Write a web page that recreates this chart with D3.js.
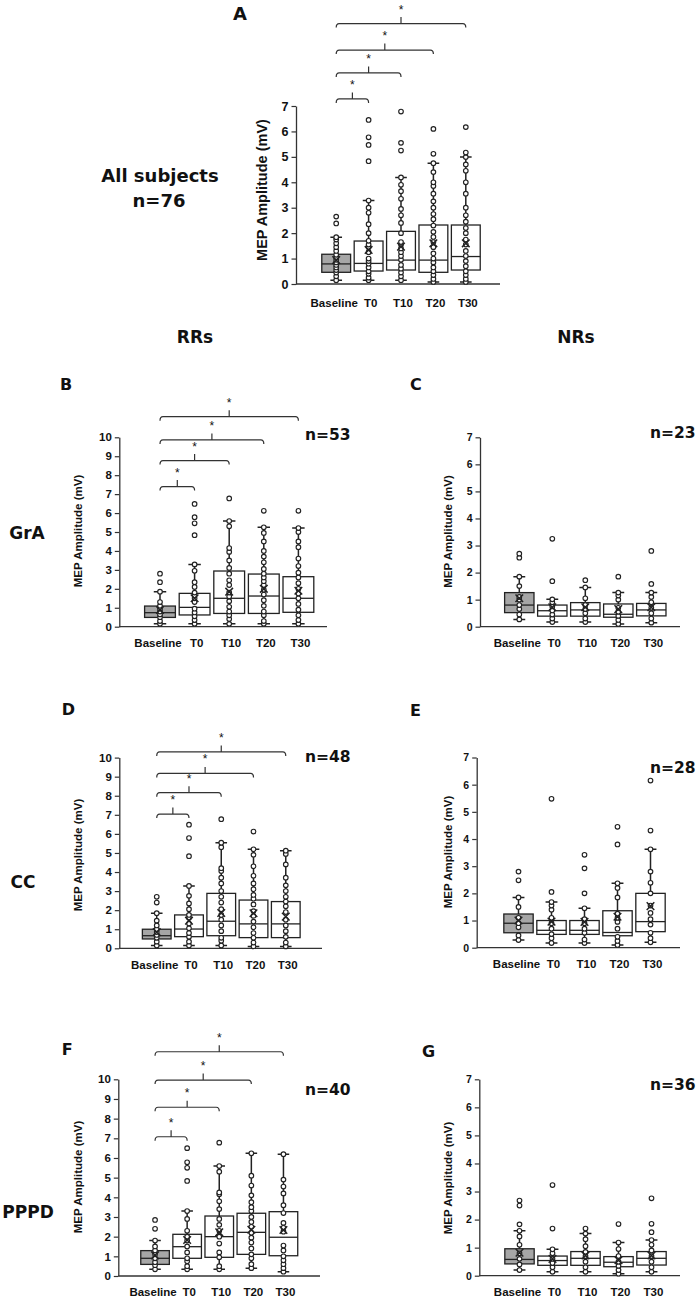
<!DOCTYPE html>
<html>
<head>
<meta charset="utf-8">
<script src="https://cdn.jsdelivr.net/npm/d3@7"></script>
<style>
  body { margin: 0; background: #fff; }
  svg { display: block; }
  .big { font-family: "DejaVu Sans", sans-serif; font-weight: bold; fill: #111; }
  .ax text { font-family: "Liberation Sans", Arial, sans-serif; font-weight: bold; fill: #111; }
  .lab { font-family: "Liberation Sans", Arial, sans-serif; font-weight: bold; fill: #111; }
</style>
</head>
<body>
<svg id="fig" width="699" height="1299"></svg>
<script>
const groups = ["Baseline", "T0", "T10", "T20", "T30"];
const ticks7 = [0, 1, 2, 3, 4, 5, 6, 7];
const ticks10 = [0, 1, 2, 3, 4, 5, 6, 7, 8, 9, 10];
const sigPairs = [["Baseline", "T0"], ["Baseline", "T10"], ["Baseline", "T20"], ["Baseline", "T30"]];

// A - all subjects, n=76
const aQ1 = [0.46, 0.51, 0.55, 0.46, 0.55];
const aMed = [0.79, 0.81, 0.94, 0.94, 1.08];
const aQ3 = [1.17, 1.69, 2.07, 2.32, 2.32];
const aLo = [0.15, 0.15, 0.15, 0.08, 0.08];
const aHi = [1.84, 3.28, 4.19, 4.75, 4.99];
const aMean = [0.94, 1.34, 1.47, 1.6, 1.6];
const aOut = [[2.38, 2.65], [4.83, 5.47, 5.77, 6.45], [5.25, 5.55, 6.78], [5.12, 6.1], [5.17, 6.17]];
const aPts = [
  [0.15, 0.3, 0.45, 0.55, 0.65, 0.75, 0.85, 0.95, 1.05, 1.15, 1.3, 1.45, 1.6, 1.75, 1.84],
  [0.15, 0.25, 0.4, 0.5, 0.65, 0.8, 0.9, 1.0, 1.25, 1.45, 1.55, 1.7, 2.0, 2.35, 2.8, 3.0, 3.28],
  [0.15, 0.3, 0.45, 0.6, 0.75, 0.95, 1.1, 1.25, 1.4, 1.55, 1.65, 2.0, 2.4, 2.7, 2.95, 3.35, 3.65, 3.9, 4.19],
  [0.08, 0.2, 0.35, 0.5, 0.65, 0.85, 1.0, 1.2, 1.45, 1.65, 1.85, 2.05, 2.3, 2.55, 2.75, 3.0, 3.25, 3.55, 3.85, 4.0, 4.4, 4.75],
  [0.08, 0.2, 0.35, 0.5, 0.7, 0.9, 1.1, 1.3, 1.55, 1.75, 2.0, 2.2, 2.45, 2.7, 3.0, 3.55, 4.0, 4.45, 4.7, 4.99]
];
const aBrackets = [7.28, 8.3, 9.2, 10.24];

// B - RRs GrA, n=53
const bQ1 = [0.49, 0.62, 0.70, 0.70, 0.76];
const bMed = [0.74, 1.02, 1.50, 1.62, 1.50];
const bQ3 = [1.09, 1.76, 2.94, 2.78, 2.64];
const bLo = [0.15, 0.15, 0.15, 0.15, 0.15];
const bHi = [1.85, 3.29, 5.58, 5.25, 5.21];
const bMean = [0.88, 1.5, 1.85, 2.0, 1.9];
const bOut = [[2.35, 2.8], [4.83, 5.46, 5.78, 6.48], [6.77], [6.12], [6.12]];
const bPts = [
  [0.15, 0.3, 0.5, 0.65, 0.8, 0.95, 1.1, 1.3, 1.85],
  [0.15, 0.35, 0.55, 0.75, 0.95, 1.3, 1.5, 1.65, 1.8, 2.1, 2.35, 2.95, 3.29],
  [0.15, 0.4, 0.6, 0.8, 1.05, 1.35, 1.6, 1.8, 2.2, 2.45, 2.8, 3.1, 3.5, 3.95, 4.15, 5.3, 5.58],
  [0.15, 0.3, 0.6, 0.8, 1.1, 1.4, 1.7, 1.95, 2.2, 2.4, 2.6, 2.8, 3.05, 3.4, 3.7, 4.0, 4.5, 4.95, 5.25],
  [0.15, 0.35, 0.6, 0.9, 1.2, 1.5, 1.75, 2.0, 2.3, 2.6, 2.85, 3.2, 3.6, 4.2, 4.5, 5.0, 5.21]
];
const bBrackets = [7.4, 8.77, 9.86, 11.09];

// C - NRs GrA, n=23
const cQ1 = [0.52, 0.39, 0.39, 0.35, 0.40];
const cMed = [0.80, 0.59, 0.62, 0.46, 0.62];
const cQ3 = [1.26, 0.80, 0.89, 0.84, 0.86];
const cLo = [0.27, 0.17, 0.17, 0.10, 0.15];
const cHi = [1.85, 1.01, 1.45, 1.26, 1.26];
const cMean = [1.05, 0.72, 0.72, 0.65, 0.72];
const cOut = [[2.55, 2.7], [1.68, 3.25], [1.72], [1.85], [1.58, 2.8]];
const cPts = [
  [0.27, 0.45, 0.65, 0.8, 1.0, 1.1, 1.5, 1.85],
  [0.17, 0.3, 0.45, 0.6, 0.75, 0.9, 1.01],
  [0.17, 0.3, 0.5, 0.65, 0.8, 1.05, 1.45],
  [0.1, 0.25, 0.4, 0.55, 0.7, 1.0, 1.15, 1.26],
  [0.15, 0.3, 0.5, 0.7, 0.9, 1.1, 1.26]
];

// D - RRs CC, n=48
const dQ1 = [0.49, 0.61, 0.66, 0.56, 0.56];
const dMed = [0.66, 1.01, 1.42, 1.28, 1.28];
const dQ3 = [1.00, 1.75, 2.88, 2.53, 2.45];
const dLo = [0.15, 0.15, 0.15, 0.10, 0.10];
const dHi = [1.84, 3.27, 5.54, 5.19, 5.12];
const dMean = [0.85, 1.45, 1.85, 1.84, 1.66];
const dOut = [[2.4, 2.7], [4.83, 5.78, 6.48], [6.77], [6.12], []];
const dPts = [
  [0.15, 0.35, 0.55, 0.7, 0.85, 1.0, 1.2, 1.45, 1.84],
  [0.15, 0.35, 0.6, 0.8, 1.05, 1.3, 1.6, 1.75, 2.05, 2.35, 2.75, 3.27],
  [0.15, 0.4, 0.55, 0.9, 1.2, 1.5, 1.75, 2.05, 2.4, 2.7, 3.0, 3.4, 3.7, 4.05, 4.2, 5.3, 5.54],
  [0.1, 0.3, 0.55, 0.8, 1.1, 1.4, 1.7, 1.95, 2.3, 2.6, 2.8, 3.1, 3.4, 3.8, 4.3, 4.9, 5.19],
  [0.1, 0.3, 0.6, 0.9, 1.2, 1.5, 1.9, 2.2, 2.45, 2.7, 3.0, 3.3, 3.7, 4.4, 4.95, 5.12]
];
const dBrackets = [7.04, 8.16, 9.17, 10.3];

// E - NRs CC, n=28
const eQ1 = [0.55, 0.49, 0.49, 0.44, 0.59];
const eMed = [0.90, 0.64, 0.64, 0.56, 0.96];
const eQ3 = [1.24, 1.00, 1.00, 1.36, 2.00];
const eLo = [0.28, 0.17, 0.17, 0.10, 0.20];
const eHi = [1.85, 1.68, 1.45, 2.37, 3.62];
const eMean = [1.0, 0.96, 0.95, 1.14, 1.53];
const eOut = [[2.48, 2.8], [2.05, 5.48], [2.0, 2.92, 3.42], [3.8, 4.45], [4.31, 6.15]];
const ePts = [
  [0.28, 0.45, 0.75, 0.9, 1.1, 1.5, 1.85],
  [0.17, 0.35, 0.5, 0.7, 0.9, 1.1, 1.4, 1.55, 1.68],
  [0.17, 0.3, 0.55, 0.7, 0.9, 1.05, 1.45],
  [0.1, 0.25, 0.4, 0.7, 0.95, 1.1, 1.25, 1.85, 2.2, 2.37],
  [0.2, 0.35, 0.55, 0.85, 1.05, 1.28, 1.55, 2.0, 2.39, 2.8, 3.62]
];

// F - RRs PPPD, n=40
const fQ1 = [0.59, 0.90, 0.95, 1.10, 1.03];
const fMed = [0.90, 1.49, 2.00, 2.22, 1.97];
const fQ3 = [1.29, 2.12, 3.05, 3.19, 3.27];
const fLo = [0.34, 0.34, 0.34, 0.40, 0.22];
const fHi = [1.80, 3.30, 5.59, 6.24, 6.19];
const fMean = [1.05, 1.83, 2.22, 2.35, 2.34];
const fOut = [[2.4, 2.85], [4.83, 5.5, 5.78, 6.5], [6.78], [], []];
const fPts = [
  [0.34, 0.55, 0.7, 0.9, 1.1, 1.3, 1.5, 1.8],
  [0.34, 0.5, 0.75, 0.9, 1.2, 1.5, 1.8, 2.0, 2.3, 2.9, 3.3],
  [0.34, 0.5, 0.95, 1.2, 1.65, 2.0, 2.3, 2.6, 2.9, 3.4, 3.8, 4.15, 4.25, 5.3, 5.59],
  [0.4, 0.6, 0.9, 1.1, 1.4, 1.7, 1.95, 2.2, 2.5, 2.75, 3.0, 3.3, 3.5, 3.75, 4.1, 4.6, 5.1, 6.24],
  [0.22, 0.4, 0.6, 0.8, 1.0, 1.3, 1.55, 2.25, 2.45, 2.7, 3.2, 3.6, 4.2, 4.55, 4.9, 6.19]
];
const fBrackets = [7.08, 8.58, 9.96, 11.4];

// G - NRs PPPD, n=36
const gQ1 = [0.42, 0.37, 0.37, 0.32, 0.38];
const gMed = [0.58, 0.54, 0.62, 0.48, 0.62];
const gQ3 = [0.96, 0.70, 0.86, 0.68, 0.86];
const gLo = [0.20, 0.14, 0.14, 0.07, 0.14];
const gHi = [1.60, 0.94, 1.50, 1.18, 1.27];
const gMean = [0.82, 0.6, 0.72, 0.55, 0.72];
const gOut = [[1.83, 2.5, 2.68], [1.68, 3.23], [1.68], [1.84], [1.55, 1.85, 2.76]];
const gPts = [
  [0.2, 0.4, 0.6, 0.8, 1.1, 1.4, 1.6],
  [0.14, 0.3, 0.45, 0.6, 0.8, 0.94],
  [0.14, 0.3, 0.5, 0.7, 0.85, 1.05, 1.3, 1.5],
  [0.07, 0.2, 0.35, 0.5, 0.7, 0.95, 1.18],
  [0.14, 0.3, 0.5, 0.7, 0.9, 1.1, 1.27]
];

// layout of each panel (pixels)
const panels = [
  { id: "A", letter: [233, 20, 18], yMax: 7, ticks: ticks7, axisX: 296, y0: 284, yTop: 106, band: [320, 482], axisEnd: 500,
    tickFont: 12.5, ylab: [262, 190, 14.5], xlabY: 307, n: null, brackets: aBrackets,
    q1: aQ1, med: aMed, q3: aQ3, lo: aLo, hi: aHi, mean: aMean, out: aOut, pts: aPts },
  { id: "B", letter: [60, 390, 16], yMax: 10, ticks: ticks10, axisX: 119.3, y0: 626.7, yTop: 437.3, band: [142.7, 315.7], axisEnd: 327,
    tickFont: 11.5, ylab: [78.3, 531, 11.5], xlabY: 647, n: ["n=53", 305, 440], brackets: bBrackets,
    q1: bQ1, med: bMed, q3: bQ3, lo: bLo, hi: bHi, mean: bMean, out: bOut, pts: bPts },
  { id: "C", letter: [410, 390, 16], yMax: 7, ticks: ticks7, axisX: 480, y0: 626.7, yTop: 437.3, band: [502.8, 667.8], axisEnd: 680,
    tickFont: 10.5, ylab: [448.3, 531.5, 11.5], xlabY: 647, n: ["n=23", 650, 438], brackets: null,
    q1: cQ1, med: cMed, q3: cQ3, lo: cLo, hi: cHi, mean: cMean, out: cOut, pts: cPts },
  { id: "D", letter: [61.7, 715, 16], yMax: 10, ticks: ticks10, axisX: 119.3, y0: 948.3, yTop: 757.6, band: [140.6, 301.9], axisEnd: 322,
    tickFont: 11.5, ylab: [78.3, 855, 11.5], xlabY: 968.5, n: ["n=48", 305, 761.5], brackets: dBrackets,
    q1: dQ1, med: dMed, q3: dQ3, lo: dLo, hi: dHi, mean: dMean, out: dOut, pts: dPts },
  { id: "E", letter: [410, 716, 16], yMax: 7, ticks: ticks7, axisX: 476.7, y0: 947.7, yTop: 757.5, band: [502, 667], axisEnd: 680,
    tickFont: 10.5, ylab: [448.3, 852, 11.5], xlabY: 968, n: ["n=28", 650, 773], brackets: null,
    q1: eQ1, med: eMed, q3: eQ3, lo: eLo, hi: eHi, mean: eMean, out: eOut, pts: ePts },
  { id: "F", letter: [61.7, 1055, 16], yMax: 10, ticks: ticks10, axisX: 118.3, y0: 1276, yTop: 1079.3, band: [139, 299.5], axisEnd: 320,
    tickFont: 11.5, ylab: [78.3, 1177, 11.5], xlabY: 1296, n: ["n=40", 305, 1095], brackets: fBrackets,
    q1: fQ1, med: fMed, q3: fQ3, lo: fLo, hi: fHi, mean: fMean, out: fOut, pts: fPts },
  { id: "G", letter: [422, 1057, 16], yMax: 7, ticks: ticks7, axisX: 479.3, y0: 1275.7, yTop: 1079.3, band: [503, 668], axisEnd: 680,
    tickFont: 10.5, ylab: [448.3, 1178, 11.5], xlabY: 1296, n: ["n=36", 650, 1090], brackets: null,
    q1: gQ1, med: gMed, q3: gQ3, lo: gLo, hi: gHi, mean: gMean, out: gOut, pts: gPts }
];

const svg = d3.select("#fig");

function drawPanel(p) {
  const g = svg.append("g").attr("class", "panel-" + p.id);
  const y = d3.scaleLinear().domain([0, p.yMax]).range([p.y0, p.yTop]);
  const x = d3.scaleBand().domain(groups).range(p.band);
  const bw = x.bandwidth() * 0.89;
  const capW = x.bandwidth() * 0.36;
  const cx = d => x(d) + x.bandwidth() / 2;

  // y axis
  const ya = g.append("g")
    .attr("class", "ax")
    .attr("transform", `translate(${p.axisX},0)`)
    .call(d3.axisLeft(y).tickValues(p.ticks).tickFormat(d3.format("d"))
      .tickSize(4.5).tickSizeOuter(0).tickPadding(3));
  ya.select(".domain").attr("stroke", "#333").attr("stroke-width", 1.3);
  ya.selectAll(".tick line").attr("stroke", "#333").attr("stroke-width", 1.2);
  ya.selectAll("text").style("font-size", p.tickFont + "px");

  // x axis line and category labels
  g.append("line")
    .attr("x1", p.axisX).attr("x2", p.axisEnd)
    .attr("y1", p.y0).attr("y2", p.y0)
    .attr("stroke", "#333").attr("stroke-width", 1.3);
  g.selectAll("text.xl")
    .data(groups)
    .enter()
    .append("text")
    .attr("class", "xl lab")
    .attr("x", d => cx(d) + (d === "Baseline" ? -2 : 2))
    .attr("y", p.xlabY)
    .attr("text-anchor", "middle")
    .style("font-size", "11.5px")
    .text(d => d);

  // y axis title
  g.append("text")
    .attr("class", "lab")
    .attr("transform", `translate(${p.ylab[0]},${p.ylab[1]}) rotate(-90)`)
    .attr("text-anchor", "middle")
    .attr("dominant-baseline", "central")
    .style("font-size", p.ylab[2] + "px")
    .text("MEP Amplitude (mV)");

  // boxes
  const rows = groups.map((d, i) => ({
    key: d, q1: p.q1[i], med: p.med[i], q3: p.q3[i], lo: p.lo[i], hi: p.hi[i],
    mean: p.mean[i], pts: p.pts[i].concat(p.out[i])
  }));

  const box = g.selectAll("g.box")
    .data(rows)
    .enter()
    .append("g")
    .attr("class", "box");

  box.append("rect")
    .attr("x", d => cx(d.key) - bw / 2)
    .attr("y", d => y(d.q3))
    .attr("width", bw)
    .attr("height", d => y(d.q1) - y(d.q3))
    .attr("fill", d => d.key === "Baseline" ? "#a6a6a6" : "#fff")
    .attr("stroke", "#222")
    .attr("stroke-width", 1.3);

  box.append("line")
    .attr("x1", d => cx(d.key) - bw / 2).attr("x2", d => cx(d.key) + bw / 2)
    .attr("y1", d => y(d.med)).attr("y2", d => y(d.med))
    .attr("stroke", "#222").attr("stroke-width", 1.3);

  // whiskers
  box.append("path")
    .attr("d", d => {
      const c = cx(d.key);
      return `M${c},${y(d.q3)}V${y(d.hi)}M${c - capW / 2},${y(d.hi)}H${c + capW / 2}` +
             `M${c},${y(d.q1)}V${y(d.lo)}M${c - capW / 2},${y(d.lo)}H${c + capW / 2}`;
    })
    .attr("fill", "none")
    .attr("stroke", "#222")
    .attr("stroke-width", 1.5);

  // points
  box.selectAll("circle")
    .data(d => d.pts.map(v => ({ key: d.key, v: v })))
    .enter()
    .append("circle")
    .attr("cx", d => cx(d.key))
    .attr("cy", d => y(d.v))
    .attr("r", 2.3)
    .attr("fill", "#fff")
    .attr("stroke", "#222")
    .attr("stroke-width", 1.15);

  // mean marker
  box.append("path")
    .attr("d", d => {
      const c = cx(d.key), m = y(d.mean), s = 3.8;
      return `M${c - s},${m - s}L${c + s},${m + s}M${c - s},${m + s}L${c + s},${m - s}`;
    })
    .attr("stroke", "#222")
    .attr("stroke-width", 1.5);

  // significance brackets
  if (p.brackets) {
    const br = g.selectAll("g.br")
      .data(sigPairs.map((pr, i) => ({ a: pr[0], b: pr[1], lv: p.brackets[i] })))
      .enter()
      .append("g")
      .attr("class", "br");
    br.append("path")
      .attr("d", d => {
        const x0 = cx(d.a), x1 = cx(d.b), yy = y(d.lv), xm = (x0 + x1) / 2;
        return `M${x0},${yy + 4}Q${x0},${yy} ${x0 + 3},${yy}H${x1 - 3}Q${x1},${yy} ${x1},${yy + 4}` +
               `M${xm},${yy}V${yy - 6.5}`;
      })
      .attr("fill", "none")
      .attr("stroke", "#333")
      .attr("stroke-width", 1.2);
    br.append("text")
      .attr("class", "lab")
      .attr("x", d => (cx(d.a) + cx(d.b)) / 2)
      .attr("y", d => y(d.lv) - 10)
      .attr("text-anchor", "middle")
      .style("font-size", "12px")
      .style("font-weight", "normal")
      .text("*");
  }

  // panel letter and n label
  svg.append("text").attr("class", "big")
    .attr("x", p.letter[0]).attr("y", p.letter[1])
    .style("font-size", p.letter[2] + "px")
    .text(p.id);
  if (p.n) {
    svg.append("text").attr("class", "big")
      .attr("x", p.n[1]).attr("y", p.n[2])
      .style("font-size", "15.5px")
      .text(p.n[0]);
  }
}

panels.forEach(drawPanel);

// row / column headings
const headings = [
  ["All subjects", 160, 182, 18], ["n=76", 159, 207, 18],
  ["RRs", 195, 343, 17], ["NRs", 576, 343, 17],
  ["GrA", 27, 539, 17], ["CC", 23, 888, 17], ["PPPD", 28, 1218, 17]
];
svg.selectAll("text.hd")
  .data(headings)
  .enter()
  .append("text")
  .attr("class", "hd big")
  .attr("x", d => d[1])
  .attr("y", d => d[2])
  .attr("text-anchor", "middle")
  .style("font-size", d => d[3] + "px")
  .text(d => d[0]);
</script>
</body>
</html>
